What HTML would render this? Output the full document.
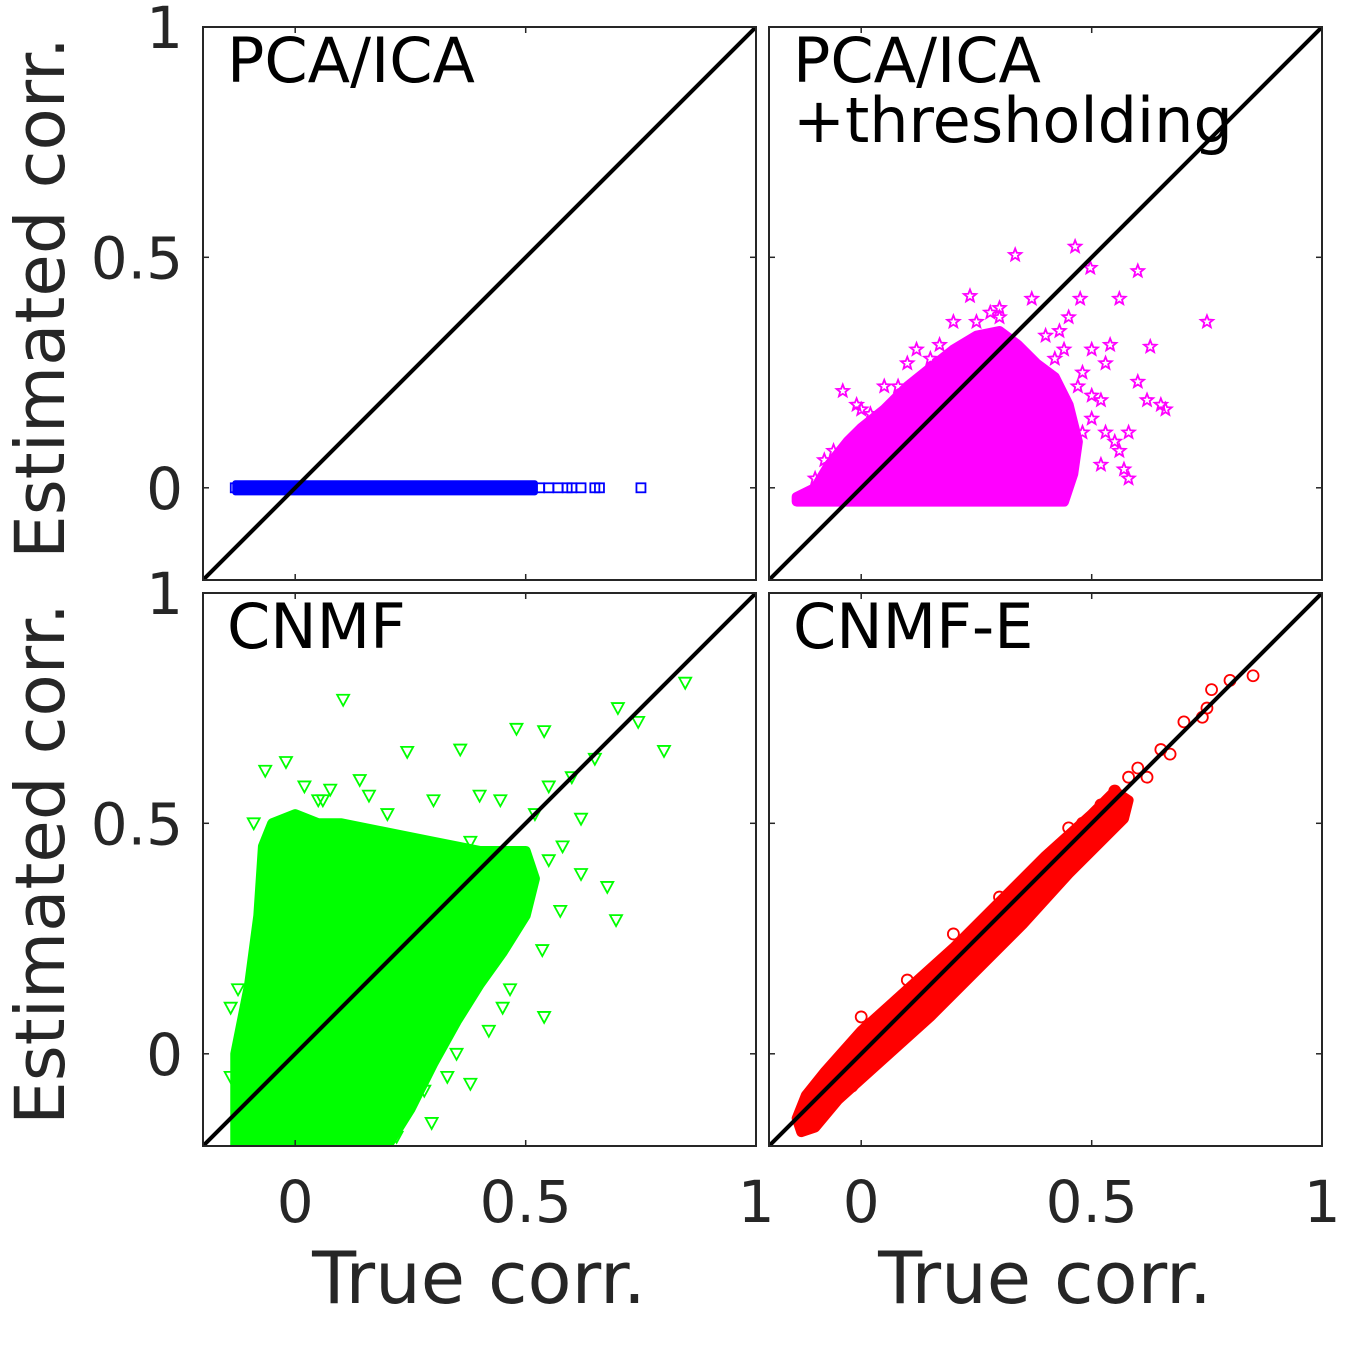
<!DOCTYPE html>
<html><head><meta charset="utf-8"><style>
html,body{margin:0;padding:0;background:#fff;}
svg{display:block;font-family:"DejaVu Sans","Liberation Sans",sans-serif;}
</style></head><body>
<svg id="fig" width="1350" height="1350" viewBox="0 0 1350 1350" xmlns="http://www.w3.org/2000/svg"></svg>
<script>
// ---- data (true corr, estimated corr) ----
const tickValues = [0, 0.5, 1];
const tickLabels = ["0", "0.5", "1"];
// PCA/ICA: all estimated = 0
const pcaX = [-0.13,-0.1,-0.05,0,0.05,0.1,0.15,0.2,0.25,0.3,0.35,0.4,0.45,0.5,0.53,0.55,0.57,0.59,0.6,0.62,0.65,0.66,0.75];
const pcaY = [0,0,0,0,0,0,0,0,0,0,0,0,0,0,0,0,0,0,0,0,0,0,0];
const pcaBandX = [-0.13,0.52,0.52,-0.13];
const pcaBandY = [-0.01,-0.01,0.01,0.01];
// PCA/ICA + thresholding
const thrHullX = [-0.14,-0.1,-0.07,-0.03,0,0.05,0.1,0.15,0.2,0.25,0.3,0.34,0.38,0.42,0.45,0.47,0.46,0.44,-0.14];
const thrHullY = [-0.02,0.0,0.05,0.1,0.13,0.17,0.22,0.26,0.3,0.33,0.34,0.31,0.27,0.24,0.18,0.1,0.03,-0.03,-0.03];
const thrX = [0.334,0.464,0.6,0.75,0.627,0.66,0.56,0.236,0.37,0.497,-0.04,-0.01,0.6,0.57,0.52,0.54,0.62,0.475,0.17,0.43,0.1,0.05,0.2,0.28,0.45,0.5,0.55,0.58,0.65,0.52,0.48,-0.08,0.0,0.12,0.3,0.4,0.42,0.44,0.47,0.5,0.53,0.56,0.58,0.48,0.5,0.53,0.44,0.41,0.38,0.25,0.3,-0.1,-0.06,0.02,0.08,0.15];
const thrY = [0.505,0.523,0.47,0.36,0.306,0.17,0.41,0.416,0.41,0.477,0.21,0.18,0.23,0.04,0.19,0.31,0.19,0.41,0.31,0.34,0.27,0.22,0.36,0.38,0.37,0.3,0.1,0.12,0.18,0.05,0.25,0.06,0.17,0.3,0.39,0.33,0.28,0.3,0.22,0.15,0.12,0.08,0.02,0.12,0.2,0.27,0.05,0.0,-0.02,0.36,0.37,0.02,0.08,0.16,0.22,0.28];
// CNMF
const cnHullX = [-0.13,-0.13,-0.1,-0.08,-0.07,-0.05,0,0.05,0.1,0.2,0.3,0.4,0.5,0.52,0.5,0.45,0.4,0.35,0.3,0.25,0.2];
const cnHullY = [-0.2,0.0,0.15,0.3,0.45,0.5,0.52,0.5,0.5,0.48,0.46,0.44,0.44,0.38,0.3,0.22,0.15,0.07,-0.02,-0.12,-0.2];
const cnX = [0.104,0.846,0.48,0.54,0.744,0.8,0.696,0.677,0.54,0.38,0.296,-0.065,-0.02,0.243,0.358,0.65,0.62,0.575,0.536,0.466,-0.124,-0.12,0.14,0.076,0.445,0.38,0.217,0.55,0.6,0.7,0.52,0.4,0.3,0.2,0.05,-0.09,0.58,0.62,0.45,0.42,0.35,0.33,0.28,0.25,0.22,0.32,0.5,0.55,0.47,0.25,0.15,-0.14,-0.14,0.02,0.06,0.16];
const cnY = [0.768,0.805,0.705,0.70,0.72,0.657,0.29,0.362,0.08,-0.065,-0.15,0.614,0.633,0.655,0.66,0.64,0.51,0.31,0.225,0.14,0.14,-0.013,0.594,0.573,0.55,0.46,-0.165,0.58,0.6,0.75,0.52,0.56,0.55,0.52,0.55,0.5,0.45,0.39,0.1,0.05,0.0,-0.05,-0.08,-0.12,-0.18,0.02,0.38,0.42,0.28,-0.05,-0.19,0.1,-0.05,0.58,0.55,0.56];
// CNMF-E
const ceHullX = [-0.14,-0.12,-0.08,0,0.1,0.2,0.3,0.4,0.5,0.55,0.58,0.57,0.5,0.45,0.35,0.25,0.15,0.05,-0.05,-0.1,-0.13];
const ceHullY = [-0.14,-0.09,-0.04,0.05,0.14,0.23,0.33,0.43,0.52,0.57,0.55,0.51,0.44,0.39,0.28,0.18,0.08,-0.01,-0.1,-0.16,-0.17];
const ceX = [0.85,0.8,0.76,0.75,0.74,0.7,0.62,0.6,0.58,0.55,0.52,0.65,0.67,-0.12,-0.1,-0.05,0.1,0.3,0.45,0.0,0.05,0.2,0.25,0.35,0.4,0.48,-0.02,0.15,0.5];
const ceY = [0.82,0.81,0.79,0.75,0.73,0.72,0.6,0.62,0.6,0.57,0.54,0.66,0.65,-0.16,-0.13,-0.03,0.16,0.34,0.49,0.08,0.09,0.26,0.2,0.37,0.36,0.5,-0.07,0.15,0.45];

const NS='http://www.w3.org/2000/svg';
const svg=document.getElementById('fig');
function el(tag,attrs,parent){const e=document.createElementNS(NS,tag);for(const k in attrs)e.setAttribute(k,attrs[k]);(parent||svg).appendChild(e);return e;}

const panels=[
 {l:203,t:27,name:'pca-ica',title:['PCA/ICA'],color:'#0000ff',mk:'square',hx:pcaBandX,hy:pcaBandY,px:pcaX,py:pcaY,xl:false,yl:true},
 {l:769,t:27,name:'pca-ica-thresholding',title:['PCA/ICA','+thresholding'],color:'#ff00ff',mk:'star',hx:thrHullX,hy:thrHullY,px:thrX,py:thrY,xl:false,yl:false},
 {l:203,t:593,name:'cnmf',title:['CNMF'],color:'#00ff00',mk:'tri',hx:cnHullX,hy:cnHullY,px:cnX,py:cnY,xl:true,yl:true},
 {l:769,t:593,name:'cnmf-e',title:['CNMF-E'],color:'#ff0000',mk:'circle',hx:ceHullX,hy:ceHullY,px:ceX,py:ceY,xl:true,yl:false}
];
const W=553,H=553,SCALE=461;
panels.forEach(p=>{
 const g=el('g',{});
 
 
 const sx=v=>p.l+(v+0.2)*SCALE;
 const sy=v=>p.t+H-(v+0.2)*SCALE;
 const cp='clip-'+p.name;
 const cl=el('clipPath',{id:cp},g);el('rect',{x:p.l,y:p.t,width:W,height:H},cl);
 const data=el('g',{'clip-path':'url(#'+cp+')'},g);
 const pts=p.hx.map((x,i)=>sx(x)+','+sy(p.hy[i])).join(' ');
 const hull=el('polygon',{points:pts,fill:p.color,stroke:p.color,'stroke-width':p.mk==='square'?6:10,'stroke-linejoin':'round'},data);
 
 
 p.px.forEach((x,i)=>{
  const cx=sx(x),cy=sy(p.py[i]);let m;
  if(p.mk==='square')m=el('rect',{x:cx-4.5,y:cy-4.5,width:9,height:9,fill:'none',stroke:p.color,'stroke-width':1.8},data);
  else if(p.mk==='circle')m=el('circle',{cx:cx,cy:cy,r:5.5,fill:'none',stroke:p.color,'stroke-width':1.8},data);
  else if(p.mk==='tri')m=el('polygon',{points:(cx-6)+','+(cy-5)+' '+(cx+6)+','+(cy-5)+' '+cx+','+(cy+6),fill:'none',stroke:p.color,'stroke-width':1.8},data);
  else{let s='';for(let k=0;k<10;k++){const a=-Math.PI/2+k*Math.PI/5,r=k%2?2.8:6.5;s+=(cx+r*Math.cos(a))+','+(cy+r*Math.sin(a))+' ';}m=el('polygon',{points:s,fill:'none',stroke:p.color,'stroke-width':1.8},data);}
  
  
 });
 const id=el('line',{x1:sx(-0.2),y1:sy(-0.2),x2:sx(1),y2:sy(1),stroke:'#000','stroke-width':4},data);
 
 
 const fr=el('rect',{x:p.l,y:p.t,width:W,height:H,fill:'none',stroke:'#262626','stroke-width':2},g);
 
 
 tickValues.forEach((v,i)=>{
  const X=sx(v),Y=sy(v);
  el('line',{x1:X,y1:p.t+H,x2:X,y2:p.t+H-6,stroke:'#262626','stroke-width':1.5},g);
  el('line',{x1:X,y1:p.t,x2:X,y2:p.t+6,stroke:'#262626','stroke-width':1.5},g);
  el('line',{x1:p.l,y1:Y,x2:p.l+6,y2:Y,stroke:'#262626','stroke-width':1.5},g);
  el('line',{x1:p.l+W,y1:Y,x2:p.l+W-6,y2:Y,stroke:'#262626','stroke-width':1.5},g);
  if(p.yl){const t=el('text',{x:183,y:Y+21,'text-anchor':'end','font-size':58,fill:'#262626'},g);t.textContent=tickLabels[i];
   
   }
  if(p.xl){const t=el('text',{x:X,y:1222,'text-anchor':'middle','font-size':58,fill:'#262626'},g);t.textContent=tickLabels[i];
   
   }
 });
 p.title.forEach((s,k)=>{const t=el('text',{x:p.l+24,y:p.t+55+k*60,'font-size':62,fill:'#000'},g);t.textContent=s;
  
  });
});
[298,864].forEach(cy=>{const t=el('text',{transform:'translate(64,'+cy+') rotate(-90)','text-anchor':'middle','font-size':69,fill:'#262626'});t.textContent='Estimated corr.';
 
 });
[479,1045].forEach(cx=>{const t=el('text',{x:cx,y:1303,'text-anchor':'middle','font-size':72,fill:'#262626'});t.textContent='True corr.';
 
 });
</script>
</body></html>
